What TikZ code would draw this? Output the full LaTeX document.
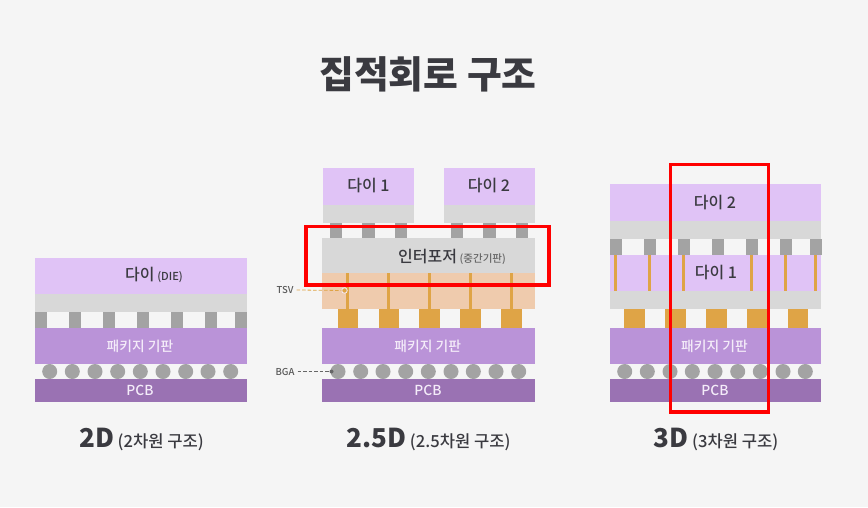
\documentclass[tikz,border=0pt]{standalone}
\usepackage{fontspec}
\setmainfont{Noto Sans CJK KR Medium}
\newfontfamily\heavykr{Noto Sans CJK KR}
\usepackage{tikz}
\definecolor{nbg}{HTML}{F5F5F5}
\definecolor{ndie}{HTML}{E0C3F6}
\definecolor{nlayer}{HTML}{D8D8D8}
\definecolor{nbump}{HTML}{A3A3A3}
\definecolor{npkg}{HTML}{BA93D8}
\definecolor{npcb}{HTML}{9A72B3}
\definecolor{nsolder}{HTML}{DFA446}
\definecolor{ninter}{HTML}{EFCBAD}
\definecolor{ntext}{HTML}{3A3A40}
\definecolor{nwhite}{HTML}{F4ECF9}
\definecolor{nred}{HTML}{FF0000}
\tikzset{
 dark/.style={text=ntext, inner sep=0pt, font=\fontsize{16}{18}\selectfont},
 light/.style={text=nwhite, inner sep=0pt, font=\fontsize{13.8}{16}\selectfont},
 caption/.style={text=ntext, inner sep=0pt, font=\fontsize{16.6}{18}\selectfont},
 callout/.style={text=black!65, inner sep=0pt, font=\fontsize{9.5}{10}\selectfont},
 redbox/.style={draw=nred, line width=3.2pt},
}
\newcommand{\bigd}[1]{{\heavykr\fontsize{26}{28}\selectfont\bfseries #1}}

\begin{document}
\begin{tikzpicture}[x=1pt,y=-1pt]
 \fill[nbg] (0,0) rectangle (868,507);
 \useasboundingbox (0,0) rectangle (868,507);
 \node[text=ntext, inner sep=0pt, font=\heavykr\fontsize{37.8}{40}\selectfont\bfseries] (title) at (428,74) {집적회로 구조};
 % 2D
 \fill[ndie] (35,257.5) rectangle (247,294);
 \fill[nlayer] (35,294) rectangle (247,312);
 \foreach \x in {35,69,103,137,171,205,235} \fill[nbump] (\x,312) rectangle ++(12,15.5);
 \fill[npkg] (35,327.5) rectangle (247,364);
 \foreach \x in {49.7,72.3,95,117.7,140.3,163,185.7,208,230.7} \fill[nbump] (\x,371.5) circle (7.5);
 \fill[npcb] (35,379) rectangle (247,402);
 \node[dark] (die) at (154,275) {다이\,{\fontsize{11}{11}\selectfont (DIE)}};
 \node[light] (pkga) at (140,346) {패키지 기판};
 \node[light] (pcba) at (140,390.5) {PCB};
 \node[caption] (capa) at (141.5,439) {\bigd{2D} (2차원 구조)};
 % 2.5D
 \fill[ndie] (323,168) rectangle (413.7,204.7);
 \fill[ndie] (444,168) rectangle (534.7,204.7);
 \fill[nlayer] (323,204.7) rectangle (413.7,222.7);
 \fill[nlayer] (444,204.7) rectangle (534.7,222.7);
 \foreach \x in {329.7,362.3,395,450.7,483.3,516} \fill[nbump] (\x,222.7) rectangle ++(12.3,15.6);
 \fill[nlayer] (322,238.3) rectangle (534.7,272.7);
 \fill[ninter] (322,272.7) rectangle (534.7,308.7);
 \foreach \x in {347.7,388.3,429.3,470.3,511.3} \fill[nsolder] (\x-1.5,272.7) rectangle (\x+1.5,308.7);
 \foreach \x in {337.7,378.7,419,460,501} \fill[nsolder] (\x,308.7) rectangle ++(20.5,18.8);
 \fill[npkg] (322,327.5) rectangle (534.7,364);
 \foreach \x in {338,360.7,383,405.7,428.3,451,473.3,496,518.7} \fill[nbump] (\x,371.5) circle (7.5);
 \fill[npcb] (322,379) rectangle (534.7,402);
 \node[dark] (dieone) at (368.5,186) {다이 1};
 \node[dark] (dietwo) at (489,186) {다이 2};
 \node[dark] (inter) at (452,256.5) {인터포저\,{\fontsize{10.5}{10}\selectfont\color{black!60}(중간기판)}};
 \node[light] (pkgb) at (427.7,346) {패키지 기판};
 \node[light] (pcbb) at (428,390.5) {PCB};
 \node[caption] (capb) at (428.5,439) {\bigd{2.5D} (2.5차원 구조)};
 % callouts
 \node[callout] (tsv) at (285,290) {TSV};
 \node[circle, draw=nwhite, fill=nsolder, line width=0.8pt, minimum size=5.5pt, inner sep=0pt] (tsvdot) at (344.5,290.5) {};
 \draw[nsolder, dash pattern=on 3.5pt off 2pt, line width=0.8pt] (tsv.east) ++(3,0) -- (tsvdot);
 \node[callout] (bga) at (285,371.5) {BGA};
 \node[circle, fill=black!60, minimum size=4pt, inner sep=0pt] (bgadot) at (331.5,371.5) {};
 \draw[black!60, dash pattern=on 3.5pt off 2pt, line width=0.8pt] (bga.east) ++(3,0) -- (bgadot);
 % 3D
 \fill[ndie] (610,184) rectangle (821.3,220.7);
 \fill[nlayer] (610,220.7) rectangle (821.3,238.7);
 \foreach \x in {610,644,678,712,745.7,779.7,809.5} \fill[nbump] (\x,238.7) rectangle ++(12,16);
 \fill[ndie] (610,254.7) rectangle (821.3,290.7);
 \foreach \x in {615.7,649.7,683.7,751.3,785.3,815.3} \fill[nsolder] (\x-1.5,254.7) rectangle (\x+1.5,290.7);
 \fill[nlayer] (610,290.7) rectangle (821.3,309);
 \foreach \x in {624.3,665,706,747,787.7} \fill[nsolder] (\x,309) rectangle ++(20.6,18.5);
 \fill[npkg] (610,327.5) rectangle (821.3,364);
 \foreach \x in {624.7,647.3,670,692.3,715,737.7,760.3,783,805.3} \fill[nbump] (\x,371.5) circle (7.5);
 \fill[npcb] (610,379) rectangle (821.3,402);
 \node[dark] (topdie) at (715,202.7) {다이 2};
 \node[dark] (lowdie) at (716,273) {다이 1};
 \node[light] (pkgc) at (714.5,346) {패키지 기판};
 \node[light] (pcbc) at (715,390.5) {PCB};
 \node[caption] (capc) at (716,439) {\bigd{3D} (3차원 구조)};
 % red frames
 \draw[redbox] (306,226.5) rectangle (549,285);
 \draw[redbox] (670.5,164.5) rectangle (768.5,412);
\end{tikzpicture}
\end{document}
